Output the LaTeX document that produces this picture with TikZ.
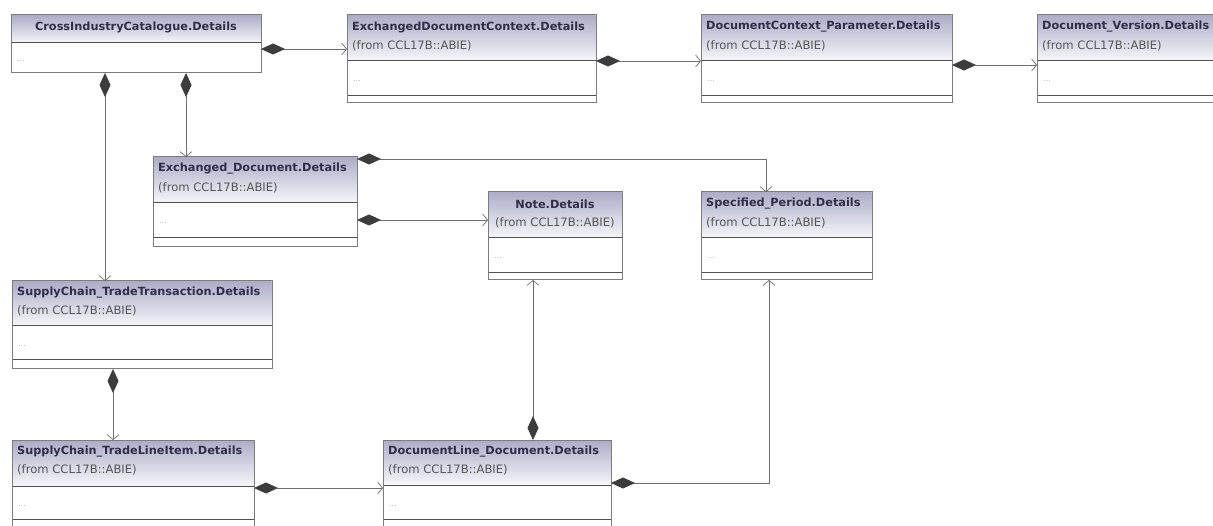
\documentclass[tikz,border=0pt]{standalone}
\usepackage{fontspec}
\newfontfamily\umlfont{DejaVu Sans}
\usetikzlibrary{arrows.meta}
\definecolor{framecol}{HTML}{7C7C7C}
\definecolor{sepcol}{HTML}{505050}
\definecolor{hdrtop}{HTML}{ADADC8}
\definecolor{hdrbot}{HTML}{F6F6FB}
\definecolor{ttlcol}{HTML}{2E2E48}
\definecolor{frmcol}{HTML}{555555}
\definecolor{linkcol}{HTML}{6E6E6E}
\definecolor{diacol}{HTML}{3C3C3C}
\tikzset{
  umlframe/.style={draw=framecol, line width=1pt, fill=white, inner sep=0pt, outer sep=0pt},
  umlline/.style={draw=framecol, line width=1pt},
  umlsep/.style={draw=sepcol, line width=1pt},
  ttl/.style={font=\umlfont\bfseries\fontsize{11.3}{13}\selectfont, text=ttlcol, inner sep=0pt},
  frm/.style={font=\umlfont\fontsize{11.6}{13}\selectfont, text=frmcol, inner sep=0pt},
  dots/.style={font=\umlfont\fontsize{8}{9}\selectfont, text=gray!60, inner sep=0pt, anchor=base west},
  comp/.style={draw=linkcol, line width=0.8pt,
    {Diamond[length=24pt,width=11pt,fill=diacol,color=diacol]}-{Straight Barb[length=5pt,width=12pt,line width=0.7pt]}}
}
% name, x, y, w, h, header height, second line offset (0 = none), dots baseline offset
\newcommand\umlbox[8]{%
  \node[umlframe, minimum width=#4pt, minimum height=#5pt, anchor=north west] (#1) at (#2,#3) {};
  \shade[top color=hdrtop, bottom color=hdrbot] ([shift={(0.5pt,-0.5pt)}]#1.north west) rectangle ([shift={(-0.5pt,-#6pt)}]#1.north east);
  \draw[umlsep] ([yshift=-#6pt]#1.north west) -- ([yshift=-#6pt]#1.north east);
  \ifnum#7>0 \draw[umlsep] ([yshift=-#7pt]#1.north west) -- ([yshift=-#7pt]#1.north east);\fi
  \node[dots] (#1dots) at ([shift={(6pt,-#8pt)}]#1.north west) {...};
  \draw[umlline] (#1.north west) rectangle (#1.south east);
}
\begin{document}
\begin{tikzpicture}[x=1pt,y=-1pt]
\useasboundingbox (0,0) rectangle (1213,526);
\fill[white] (0,0) rectangle (1213,526);

\umlbox{b1}{11}{15}{250}{58}{28}{0}{47}
\umlbox{b2}{347}{15}{249}{88}{46}{81}{67}
\umlbox{b3}{701}{15}{251}{88}{46}{81}{67}
\umlbox{b4}{1037}{15}{200}{88}{46}{81}{67}
\umlbox{b5}{153}{157}{204}{90}{46}{81}{67}
\umlbox{b6}{488}{192}{134}{88}{46}{81}{67}
\umlbox{b7}{701}{192}{171}{88}{46}{81}{67}
\umlbox{b8}{12}{281}{260}{88}{45}{79}{66}
\umlbox{b9}{12}{440}{242}{100}{46}{79}{66}
\umlbox{b10}{383}{440}{228}{100}{45}{79}{66}

% titles
\node[ttl] (b1t) at ([yshift=-12pt]b1.north) {CrossIndustryCatalogue.Details};
\node[ttl, anchor=west] (b2t) at ([shift={(5pt,-12pt)}]b2.north west) {ExchangedDocumentContext.Details};
\node[frm, anchor=west] (b2f) at ([shift={(5pt,-31pt)}]b2.north west) {(from CCL17B::ABIE)};
\node[ttl, anchor=west] (b3t) at ([shift={(5pt,-12pt)}]b3.north west) {DocumentContext\_Parameter.Details};
\node[frm, anchor=west] (b3f) at ([shift={(5pt,-31pt)}]b3.north west) {(from CCL17B::ABIE)};
\node[ttl, anchor=west] (b4t) at ([shift={(5pt,-12pt)}]b4.north west) {Document\_Version.Details};
\node[frm, anchor=west] (b4f) at ([shift={(5pt,-31pt)}]b4.north west) {(from CCL17B::ABIE)};
\node[ttl, anchor=west] (b5t) at ([shift={(5pt,-12pt)}]b5.north west) {Exchanged\_Document.Details};
\node[frm, anchor=west] (b5f) at ([shift={(5pt,-31pt)}]b5.north west) {(from CCL17B::ABIE)};
\node[ttl] (b6t) at ([yshift=-12pt]b6.north) {Note.Details};
\node[frm] (b6f) at ([yshift=-31pt]b6.north) {(from CCL17B::ABIE)};
\node[ttl, anchor=west] (b7t) at ([shift={(5pt,-12pt)}]b7.north west) {Specified\_Period.Details};
\node[frm, anchor=west] (b7f) at ([shift={(5pt,-31pt)}]b7.north west) {(from CCL17B::ABIE)};
\node[ttl, anchor=west] (b8t) at ([shift={(5pt,-12pt)}]b8.north west) {SupplyChain\_TradeTransaction.Details};
\node[frm, anchor=west] (b8f) at ([shift={(5pt,-30pt)}]b8.north west) {(from CCL17B::ABIE)};
\node[ttl, anchor=west] (b9t) at ([shift={(5pt,-12pt)}]b9.north west) {SupplyChain\_TradeLineItem.Details};
\node[frm, anchor=west] (b9f) at ([shift={(5pt,-30pt)}]b9.north west) {(from CCL17B::ABIE)};
\node[ttl, anchor=west] (b10t) at ([shift={(5pt,-12pt)}]b10.north west) {DocumentLine\_Document.Details};
\node[frm, anchor=west] (b10f) at ([shift={(5pt,-30pt)}]b10.north west) {(from CCL17B::ABIE)};

% connectors
\draw[comp] ([yshift=-34pt]b1.north east) -- ([yshift=-34pt]b2.north west);
\draw[comp] ([yshift=-46pt]b2.north east) -- ([yshift=-46pt]b3.north west);
\draw[comp] ([yshift=-50pt]b3.north east) -- ([yshift=-50pt]b4.north west);
\draw[comp] ([xshift=94pt]b1.south west) -- ([xshift=93pt]b8.north west);
\draw[comp] ([xshift=175pt]b1.south west) -- ([xshift=33pt]b5.north west);
\draw[comp] ([yshift=-2pt]b5.north east) -| ([xshift=65pt]b7.north west);
\draw[comp] ([yshift=-63pt]b5.north east) -- ([yshift=-28pt]b6.north west);
\draw[comp] ([xshift=101pt]b8.south west) -- ([xshift=101pt]b9.north west);
\draw[comp] ([yshift=-48pt]b9.north east) -- ([yshift=-48pt]b10.north west);
\draw[comp] ([xshift=150pt]b10.north west) -- ([xshift=45pt]b6.south west);
\draw[comp] ([yshift=-43pt]b10.north east) -| ([xshift=68pt]b7.south west);
\end{tikzpicture}
\end{document}
